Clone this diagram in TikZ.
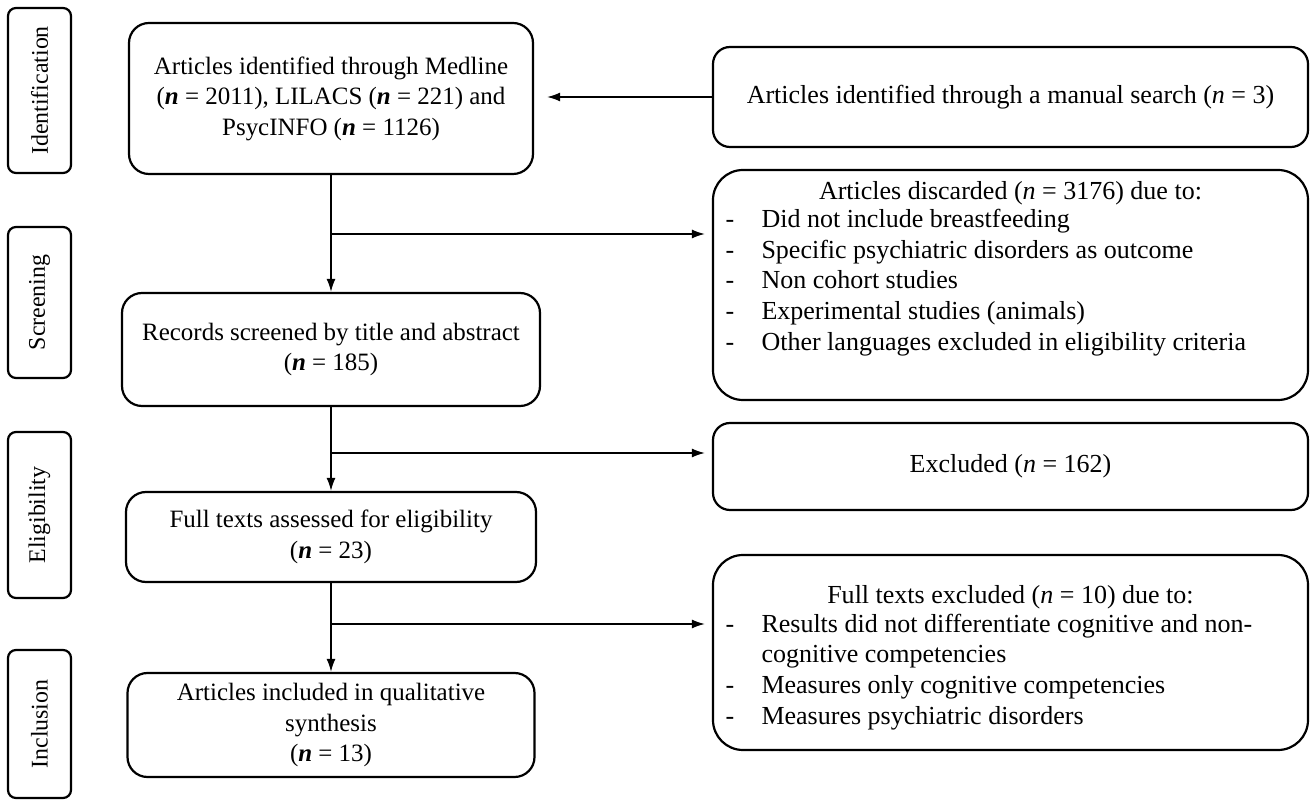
\documentclass[tikz,border=0pt]{standalone}
\usepackage{fontspec}
\setmainfont{Liberation Serif}
\usetikzlibrary{arrows.meta}
\newcommand{\nbold}{\textbf{\textit{n}}}
\newcommand{\reasons}[3]{\begin{minipage}[c][#1][#2]{11.9cm}#3\end{minipage}}

\begin{document}
\begin{tikzpicture}[
  box/.style={draw,line width=1.25pt,rounded corners=0.4cm,align=center,
    font=\fontsize{14.2}{17.4}\selectfont},
  sidebox/.style={box,font=\fontsize{14.8}{17.4}\selectfont},
  phase/.style={draw,line width=1.25pt,rounded corners=0.16cm,rotate=90,
    minimum height=1.26cm,inner sep=0pt,font=\fontsize{13.6}{16}\selectfont},
  arr/.style={line width=0.9pt,-{Latex[length=0.26cm,width=0.18cm]}}]
  \useasboundingbox (0,0) rectangle (26.2,-16);
  % stage labels on the left
  \foreach \name/\y/\h in {Identification/-1.81/3.3, Screening/-6.05/3.02,
    Eligibility/-10.3/3.32, Inclusion/-14.48/2.96}
    \node[phase,minimum width=\h cm] (\name) at (0.79,\y) {\name};
  % main column
  \node[box,minimum width=8.08cm,minimum height=3.02cm] (found) at (6.62,-1.97)
    {Articles identified through Medline\\(\nbold{} = 2011), LILACS (\nbold{} = 221) and\\PsycINFO (\nbold{} = 1126)};
  \node[box,minimum width=8.36cm,minimum height=2.26cm] (screen) at (6.62,-6.99)
    {Records screened by title and abstract\\(\nbold{} = 185)};
  \node[box,minimum width=8.2cm,minimum height=1.8cm] (full) at (6.62,-10.74)
    {Full texts assessed for eligibility\\(\nbold{} = 23)};
  \node[box,minimum width=8.14cm,minimum height=2.08cm] (incl) at (6.62,-14.5)
    {Articles included in qualitative\\synthesis\\(\nbold{} = 13)};
  % right column
  \node[sidebox,minimum width=11.9cm,minimum height=2cm,rounded corners=0.34cm] (manual) at (20.21,-1.94)
    {Articles identified through a manual search (\textit{n} = 3)};
  \node[sidebox,inner sep=0pt,rounded corners=0.6cm] (discard) at (20.21,-5.7)
    {\reasons{4.6cm}{t}{\vspace*{0.22cm}\centering Articles discarded (\textit{n} = 3176) due to:\par
      \raggedright
      \begin{tabular}{@{\hspace{0.25cm}}p{0.72cm}@{}l@{}}
      - & Did not include breastfeeding\\
      - & Specific psychiatric disorders as outcome\\
      - & Non cohort studies\\
      - & Experimental studies (animals)\\
      - & Other languages excluded in eligibility criteria
      \end{tabular}}};
  \node[sidebox,minimum width=11.9cm,minimum height=1.74cm,rounded corners=0.34cm] (excl) at (20.21,-9.33)
    {Excluded (\textit{n} = 162)};
  \node[sidebox,inner sep=0pt,rounded corners=0.6cm] (fullex) at (20.21,-13.05)
    {\reasons{3.9cm}{c}{\vspace*{0.28cm}\centering Full texts excluded (\textit{n} = 10) due to:\par
      \raggedright
      \begin{tabular}{@{\hspace{0.25cm}}p{0.72cm}@{}l@{}}
      - & Results did not differentiate cognitive and non-\\
        & cognitive competencies\\
      - & Measures only cognitive competencies\\
      - & Measures psychiatric disorders
      \end{tabular}}};
  % connectors
  \draw[arr,shorten >=0.26cm] (manual) -- (manual -| found.east);
  \draw[arr] (found) -- (screen);
  \draw[arr] (screen) -- (full);
  \draw[arr] (full) -- (incl);
  \coordinate (b1) at (6.62,-4.68);
  \coordinate (b2) at (6.62,-9.06);
  \coordinate (b3) at (6.62,-12.48);
  \draw[arr,shorten >=0.14cm] (b1) -- (b1 -| discard.west);
  \draw[arr,shorten >=0.14cm] (b2) -- (b2 -| excl.west);
  \draw[arr,shorten >=0.14cm] (b3) -- (b3 -| fullex.west);
\end{tikzpicture}
\end{document}
